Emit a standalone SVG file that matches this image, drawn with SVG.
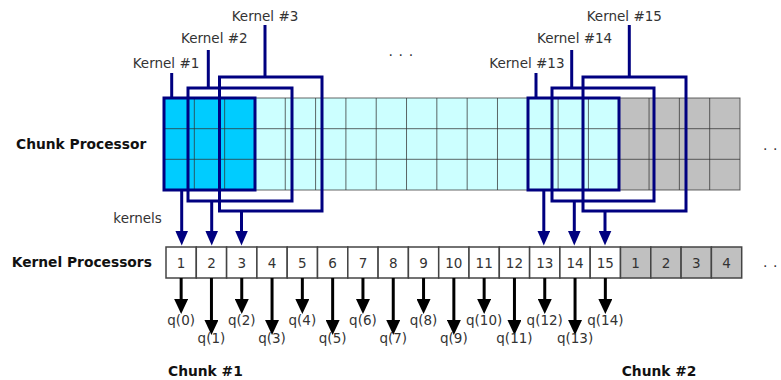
<svg xmlns="http://www.w3.org/2000/svg" width="781" height="380" viewBox="0 0 781 380">
  <style>
    text { font-family: "DejaVu Sans", "Liberation Sans", sans-serif; font-size: 13.5px; fill: #333; }
    .bold { font-weight: bold; font-size: 13.8px; fill: #111; }
    .mid { text-anchor: middle; }
    .grid { stroke: #333; stroke-opacity: 0.75; stroke-width: 1; fill: none; }
    .kbox { fill: none; stroke: #000080; stroke-width: 3; }
    .stem { stroke: #000080; stroke-width: 3; fill: none; }
    .cell { fill: #fff; stroke: #444; stroke-width: 1.5; }
    .cell.next { fill: #c0c0c0; }
    .feed { stroke: #000080; stroke-width: 3; fill: none; marker-end: url(#head-blue); }
    .out { stroke: #000; stroke-width: 3; fill: none; marker-end: url(#head-black); }
    .dots { fill: #333; font-size: 14px; }
  </style>
  <defs>
    <marker id="head-blue" markerUnits="userSpaceOnUse" viewBox="0 0 15 13" markerWidth="15" markerHeight="13" refX="5" refY="6.5" orient="auto">
      <path d="M0,0 L15,6.5 L0,13 Z" fill="#000080"/>
    </marker>
    <marker id="head-black" markerUnits="userSpaceOnUse" viewBox="0 0 15 14" markerWidth="15" markerHeight="14" refX="5" refY="7" orient="auto">
      <path d="M0,0 L15,7 L0,14 Z" fill="#000"/>
    </marker>
  </defs>

  <rect width="781" height="380" fill="#fff"/>

  <!-- chunk processor grid: 19 columns x 3 rows -->
  <g id="chunk-processor">
    <text class="bold" x="16" y="149.3">Chunk Processor</text>
    <rect x="164" y="98" width="90.95" height="92" fill="#00ccff"/>
    <rect x="254.95" y="98" width="363.79" height="92" fill="#ccffff"/>
    <rect x="618.74" y="98" width="121.26" height="92" fill="#c0c0c0"/>
    <path class="grid" d="M194.32,98V190 M224.63,98V190 M254.95,98V190 M285.26,98V190 M315.58,98V190 M345.9,98V190 M376.21,98V190 M406.53,98V190 M436.84,98V190 M467.16,98V190 M497.48,98V190 M527.79,98V190 M558.11,98V190 M588.42,98V190 M618.74,98V190 M649.06,98V190 M679.37,98V190 M709.69,98V190 M164,128.7H740 M164,159.3H740"/>
    <rect class="grid" x="164" y="98" width="576" height="92" stroke-opacity="0.85"/>
    <text class="dots" x="763 773" y="149.5">..</text>
  </g>

  <text class="dots" x="388.6 398.6 408.8" y="55.5">...</text>

  <!-- kernel windows over the chunk -->
  <g id="kernel-1">
    <text x="132.7" y="68">Kernel #1</text>
    <path class="stem" d="M171.7,73V98"/>
    <rect class="kbox" x="164" y="98" width="91" height="92"/>
  </g>
  <g id="kernel-2">
    <text x="181" y="43.3">Kernel #2</text>
    <path class="stem" d="M208.3,50V88"/>
    <rect class="kbox" x="188" y="88" width="104" height="113"/>
  </g>
  <g id="kernel-3">
    <text x="231.7" y="20.5">Kernel #3</text>
    <path class="stem" d="M265,25V77"/>
    <rect class="kbox" x="219.5" y="77" width="102.5" height="134"/>
  </g>
  <g id="kernel-13">
    <text x="489.3" y="68">Kernel #13</text>
    <path class="stem" d="M536,73V98"/>
    <rect class="kbox" x="528" y="98" width="91" height="92"/>
  </g>
  <g id="kernel-14">
    <text x="537" y="43.3">Kernel #14</text>
    <path class="stem" d="M571.7,50V88"/>
    <rect class="kbox" x="552" y="88" width="102" height="113"/>
  </g>
  <g id="kernel-15">
    <text x="586.7" y="20.5">Kernel #15</text>
    <path class="stem" d="M629.3,25V77"/>
    <rect class="kbox" x="583" y="77" width="103" height="134"/>
  </g>

  <!-- kernel processors row -->
  <g id="kernel-processors">
    <text class="bold" x="11.7" y="266.7">Kernel Processors</text>
    <g id="kp-1"><rect class="cell" x="166" y="247" width="30.3" height="31"/><text class="mid" x="181.15" y="267.5">1</text></g>
    <g id="kp-2"><rect class="cell" x="196.3" y="247" width="30.3" height="31"/><text class="mid" x="211.45" y="267.5">2</text></g>
    <g id="kp-3"><rect class="cell" x="226.6" y="247" width="30.3" height="31"/><text class="mid" x="241.75" y="267.5">3</text></g>
    <g id="kp-4"><rect class="cell" x="256.9" y="247" width="30.3" height="31"/><text class="mid" x="272.05" y="267.5">4</text></g>
    <g id="kp-5"><rect class="cell" x="287.2" y="247" width="30.3" height="31"/><text class="mid" x="302.35" y="267.5">5</text></g>
    <g id="kp-6"><rect class="cell" x="317.5" y="247" width="30.3" height="31"/><text class="mid" x="332.65" y="267.5">6</text></g>
    <g id="kp-7"><rect class="cell" x="347.8" y="247" width="30.3" height="31"/><text class="mid" x="362.95" y="267.5">7</text></g>
    <g id="kp-8"><rect class="cell" x="378.1" y="247" width="30.3" height="31"/><text class="mid" x="393.25" y="267.5">8</text></g>
    <g id="kp-9"><rect class="cell" x="408.4" y="247" width="30.3" height="31"/><text class="mid" x="423.55" y="267.5">9</text></g>
    <g id="kp-10"><rect class="cell" x="438.7" y="247" width="30.3" height="31"/><text class="mid" x="453.85" y="267.5">10</text></g>
    <g id="kp-11"><rect class="cell" x="469" y="247" width="30.3" height="31"/><text class="mid" x="484.15" y="267.5">11</text></g>
    <g id="kp-12"><rect class="cell" x="499.3" y="247" width="30.3" height="31"/><text class="mid" x="514.45" y="267.5">12</text></g>
    <g id="kp-13"><rect class="cell" x="529.6" y="247" width="30.3" height="31"/><text class="mid" x="544.75" y="267.5">13</text></g>
    <g id="kp-14"><rect class="cell" x="559.9" y="247" width="30.3" height="31"/><text class="mid" x="575.05" y="267.5">14</text></g>
    <g id="kp-15"><rect class="cell" x="590.2" y="247" width="30.3" height="31"/><text class="mid" x="605.35" y="267.5">15</text></g>
    <g id="kp-next-1"><rect class="cell next" x="620.5" y="247" width="30.3" height="31"/><text class="mid" x="635.65" y="267.5">1</text></g>
    <g id="kp-next-2"><rect class="cell next" x="650.8" y="247" width="30.3" height="31"/><text class="mid" x="665.95" y="267.5">2</text></g>
    <g id="kp-next-3"><rect class="cell next" x="681.1" y="247" width="30.3" height="31"/><text class="mid" x="696.25" y="267.5">3</text></g>
    <g id="kp-next-4"><rect class="cell next" x="711.4" y="247" width="30.3" height="31"/><text class="mid" x="726.55" y="267.5">4</text></g>
    <text class="dots" x="763 773" y="267.2">..</text>
  </g>

  <!-- connectors: kernels fed down, results out -->
  <g id="connectors">
    <text x="113.3" y="223">kernels</text>
    <path class="feed" d="M181.7,190V235.5"/>
    <path class="feed" d="M211.7,201V235.5"/>
    <path class="feed" d="M241.5,211V235.5"/>
    <path class="feed" d="M543.8,190V235.5"/>
    <path class="feed" d="M574.3,201V235.5"/>
    <path class="feed" d="M605,211V235.5"/>

    <path class="out" d="M181.15,278V304"/>
    <path class="out" d="M211.45,278V325"/>
    <path class="out" d="M241.75,278V304"/>
    <path class="out" d="M272.05,278V325"/>
    <path class="out" d="M302.35,278V304"/>
    <path class="out" d="M332.65,278V325"/>
    <path class="out" d="M362.95,278V304"/>
    <path class="out" d="M393.25,278V325"/>
    <path class="out" d="M423.55,278V304"/>
    <path class="out" d="M453.85,278V325"/>
    <path class="out" d="M484.15,278V304"/>
    <path class="out" d="M514.45,278V325"/>
    <path class="out" d="M544.75,278V304"/>
    <path class="out" d="M575.05,278V325"/>
    <path class="out" d="M605.35,278V304"/>

    <text class="mid" x="181.15" y="325">q(0)</text>
    <text class="mid" x="211.45" y="342.5">q(1)</text>
    <text class="mid" x="241.75" y="325">q(2)</text>
    <text class="mid" x="272.05" y="342.5">q(3)</text>
    <text class="mid" x="302.35" y="325">q(4)</text>
    <text class="mid" x="332.65" y="342.5">q(5)</text>
    <text class="mid" x="362.95" y="325">q(6)</text>
    <text class="mid" x="393.25" y="342.5">q(7)</text>
    <text class="mid" x="423.55" y="325">q(8)</text>
    <text class="mid" x="453.85" y="342.5">q(9)</text>
    <text class="mid" x="484.15" y="325">q(10)</text>
    <text class="mid" x="514.45" y="342.5">q(11)</text>
    <text class="mid" x="544.75" y="325">q(12)</text>
    <text class="mid" x="575.05" y="342.5">q(13)</text>
    <text class="mid" x="605.35" y="325">q(14)</text>
  </g>

  <text class="bold" x="168" y="376">Chunk #1</text>
  <text class="bold" x="621.7" y="376">Chunk #2</text>
</svg>
